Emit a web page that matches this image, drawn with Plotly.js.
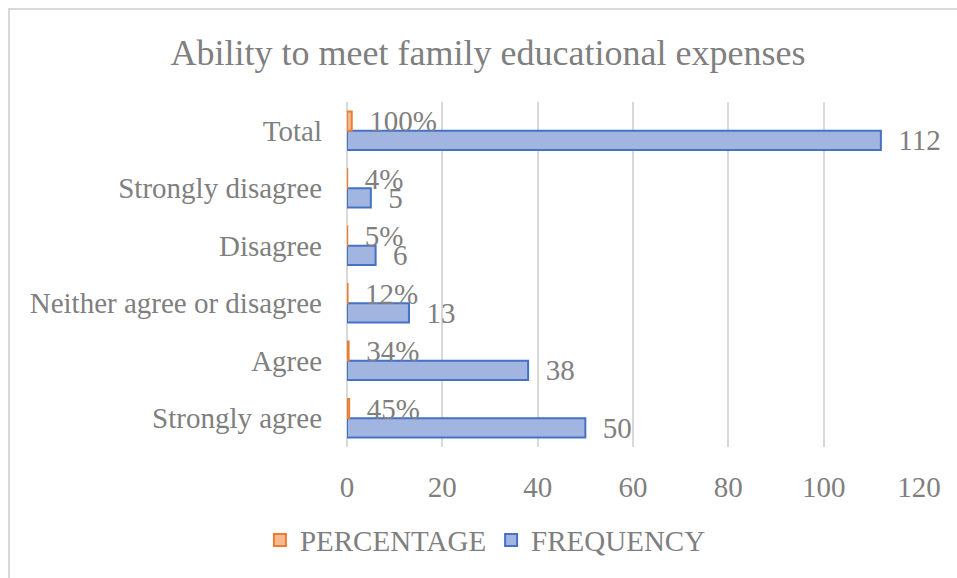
<!DOCTYPE html>
<html>
<head>
<meta charset="utf-8">
<script src="https://cdn.plot.ly/plotly-3.0.1.min.js"></script>
<style>
  html, body { margin: 0; padding: 0; background: #fff; }
  #wrap { position: relative; width: 957px; height: 578px; overflow: hidden; }
  #chart { position: absolute; left: 0; top: 0; width: 957px; height: 578px; }
  #frame { position: absolute; left: 8px; top: 8px; width: 1000px; height: 700px;
           border-left: 2px solid #d9d9d9; border-top: 2px solid #d9d9d9; pointer-events: none; }
</style>
</head>
<body>
<div id="wrap">
  <div id="chart"></div>
  <div id="frame"></div>
</div>
<script>
const categories = ["Strongly agree", "Agree", "Neither agree or disagree", "Disagree", "Strongly disagree", "Total"];
const frequency = [50, 38, 13, 6, 5, 112];
const percentage = [0.45, 0.34, 0.12, 0.05, 0.04, 1.00];

const gray = "#7f7f7f";
const font = "Liberation Serif, Times New Roman, serif";

const traces = [
  {
    type: "bar", orientation: "h", name: "FREQUENCY",
    y: categories, x: frequency,
    marker: { color: "#a2b4e0", line: { color: "#4472c4", width: 2 } },
    texttemplate: "\u00a0\u00a0%{x}", textposition: "outside",
    textfont: { family: font, size: 29, color: gray },
    constraintext: "none", cliponaxis: false, hoverinfo: "x+y"
  },
  {
    type: "bar", orientation: "h", name: "PERCENTAGE",
    y: categories, x: percentage,
    marker: { color: "#f5b98f", line: { color: "#ed7d31", width: 2 } },
    texttemplate: "\u00a0\u00a0%{x:.0%}", textposition: "outside",
    textfont: { family: font, size: 29, color: gray },
    constraintext: "none", cliponaxis: false, hoverinfo: "x+y"
  }
];

const layout = {
  width: 957, height: 578,
  margin: { l: 347, r: 38, t: 102, b: 125 },
  paper_bgcolor: "#fff", plot_bgcolor: "#fff",
  font: { family: font, size: 29, color: gray },
  title: { text: "Ability to meet family educational expenses",
           font: { family: font, size: 36, color: gray },
           x: 488 / 957, xref: "container", xanchor: "center",
           y: 1 - 52 / 578, yref: "container", yanchor: "middle" },
  barmode: "group", bargap: 0.33, bargroupgap: 0,
  xaxis: {
    range: [0, 120], dtick: 20, showgrid: true, gridcolor: "#d9d9d9", gridwidth: 2,
    zeroline: true, zerolinecolor: "#d9d9d9", zerolinewidth: 2,
    showline: false, ticks: "", ticklabelstandoff: 20,
    tickfont: { family: font, size: 29, color: gray }
  },
  yaxis: {
    type: "category", categoryorder: "array", categoryarray: categories,
    showgrid: false, zeroline: false, showline: false, ticks: "",
    ticklabelstandoff: 24,
    tickfont: { family: font, size: 29, color: gray }
  },
  showlegend: true,
  legend: {
    orientation: "h", traceorder: "reversed",
    x: 0.242, xanchor: "center", y: -0.27, yanchor: "middle",
    font: { family: font, size: 29, color: gray },
    itemwidth: 30
  }
};

Plotly.newPlot("chart", traces, layout, { displayModeBar: false, staticPlot: true });
</script>
</body>
</html>
